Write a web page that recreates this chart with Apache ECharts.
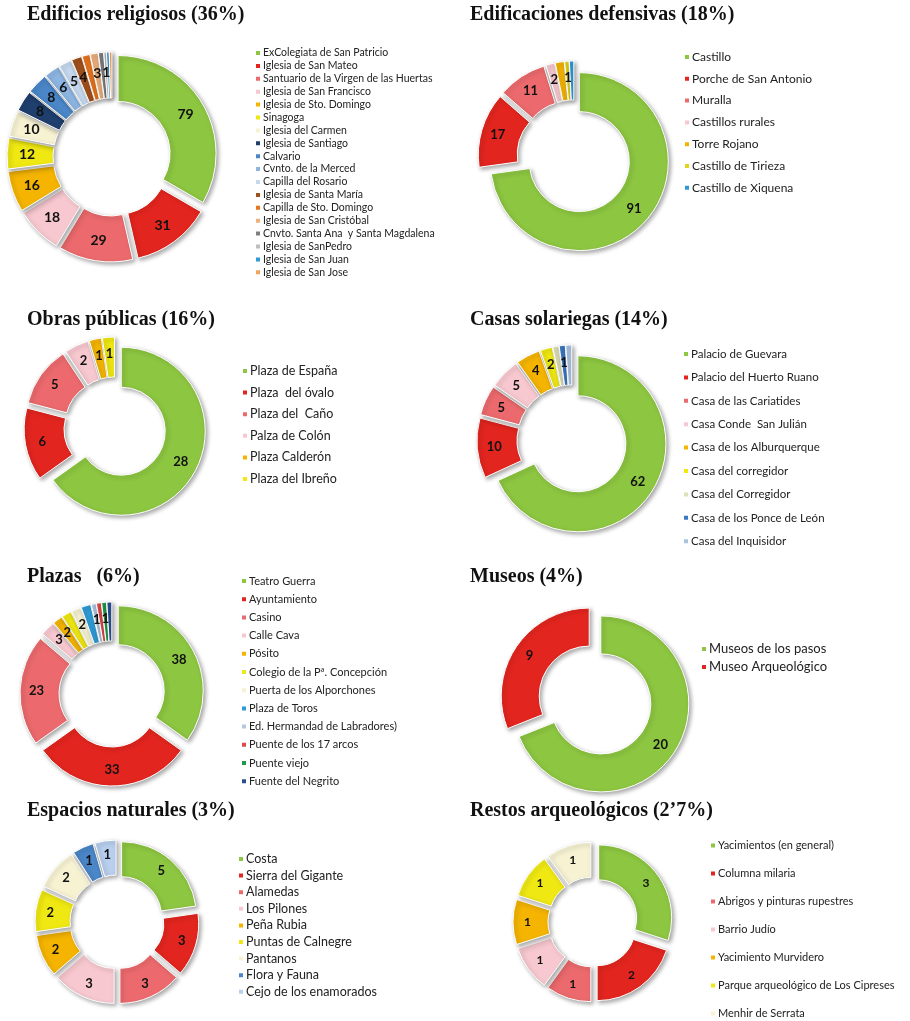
<!DOCTYPE html>
<html>
<head>
<meta charset="utf-8">
<script src="https://cdn.jsdelivr.net/npm/echarts@6/dist/echarts.min.js"></script>
<style>
  html, body { margin: 0; padding: 0; background: #fff; }
  #main { width: 910px; height: 1021px; }
</style>
</head>
<body>
<div id="main"></div>
<script>
// data
const religiososNames = ['ExColegiata de San Patricio', 'Iglesia de San Mateo', 'Santuario de la Virgen de las Huertas',
  'Iglesia de San Francisco', 'Iglesia de Sto. Domingo', 'Sinagoga', 'Iglesia del Carmen', 'Iglesia de Santiago',
  'Calvario', 'Cvnto. de la Merced', 'Capilla del Rosario', 'Iglesia de Santa María', 'Capilla de Sto. Domingo',
  'Iglesia de San Cristóbal', 'Cnvto. Santa Ana  y Santa Magdalena', 'Iglesia de SanPedro', 'Iglesia de San Juan',
  'Iglesia de San Jose']
const religiososValues = [79, 31, 29, 18, 16, 12, 10, 8, 8, 6, 5, 4, 3, 3, 2, 1, 1, 1]

const defensivasNames = ['Castillo', 'Porche de San Antonio', 'Muralla', 'Castillos rurales', 'Torre Rojano',
  'Castillo de Tirieza', 'Castillo de Xiquena']
const defensivasValues = [91, 17, 11, 2, 2, 1, 1]

const obrasNames = ['Plaza de España', 'Plaza  del óvalo', 'Plaza del  Caño', 'Palza de Colón', 'Plaza Calderón',
  'Plaza del Ibreño']
const obrasValues = [28, 6, 5, 2, 1, 1]

const casasNames = ['Palacio de Guevara', 'Palacio del Huerto Ruano', 'Casa de las Cariatides', 'Casa Conde  San Julián',
  'Casa de los Alburquerque', 'Casa del corregidor', 'Casa del Corregidor', 'Casa de los Ponce de León',
  'Casa del Inquisidor']
const casasValues = [62, 10, 5, 5, 4, 2, 1, 1, 1]

const plazasNames = ['Teatro Guerra', 'Ayuntamiento', 'Casino', 'Calle Cava', 'Pósito', 'Colegio de la Pª. Concepción',
  'Puerta de los Alporchones', 'Plaza de Toros', 'Ed. Hermandad de Labradores)', 'Puente de los 17 arcos',
  'Puente viejo', 'Fuente del Negrito']
const plazasValues = [38, 33, 23, 3, 2, 2, 2, 2, 1, 1, 1, 1]

const museosNames = ['Museos de los pasos', 'Museo Arqueológico']
const museosValues = [20, 9]

const espaciosNames = ['Costa', 'Sierra del Gigante', 'Alamedas', 'Los Pilones', 'Peña Rubia', 'Puntas de Calnegre',
  'Pantanos', 'Flora y Fauna', 'Cejo de los enamorados']
const espaciosValues = [5, 3, 3, 3, 2, 2, 2, 1, 1]

const restosNames = ['Yacimientos (en general)', 'Columna milaria', 'Abrigos y pinturas rupestres', 'Barrio Judío',
  'Yacimiento Murvidero', 'Parque arqueológico de Los Cipreses', 'Menhir de Serrata']
const restosValues = [3, 2, 1, 1, 1, 1, 1]

const titles = ['Edificios religiosos (36%)', 'Edificaciones defensivas (18%)', 'Obras públicas (16%)',
  'Casas solariegas (14%)', 'Plazas   (6%)', 'Museos (4%)', 'Espacios naturales (3%)',
  'Restos arqueológicos (2’7%)']

// colours
const base = ['#8dc641', '#e3251f', '#ec6a6d', '#f7c8cf', '#f4b400', '#efe812', '#f6f2d2']
const religiososColors = base.concat(['#1f3f6e', '#4a86c8', '#8db5e2', '#c5d8ee', '#a0501c', '#e8741e',
  '#edb07b', '#7f7f7f', '#bfbfbf', '#2f9bd6', '#f2a35e'])
const defensivasColors = ['#8dc641', '#e3251f', '#ec6a6d', '#f7c8cf', '#f4b400', '#e3d51c', '#2d9ad5']
const plazasColors = base.concat(['#2f9bd6', '#b4c8e2', '#e04848', '#1f9a4a', '#2a4f8f'])
const casasColors = ['#8dc641', '#e3251f', '#ec6a6d', '#f7c8cf', '#f4b400', '#efe812', '#dfe0b8', '#3b78c3', '#aac3e0']
const espaciosColors = base.concat(['#4a86c8', '#b8cfee'])

const charts = [
  { names: religiososNames, values: religiososValues, colors: religiososColors,
    title: [27, 5], center: [112, 157], radius: [52, 98], label: 14,
    legend: { left: 254, top: 47, font: 10.5, lh: 12, gap: 0.9 } },
  { names: defensivasNames, values: defensivasValues, colors: defensivasColors,
    title: [470, 5], center: [574, 157], radius: [50, 89], label: 13,
    legend: { left: 683, top: 50, font: 12, lh: 14, gap: 7.8 } },
  { names: obrasNames, values: obrasValues, colors: base,
    title: [27, 310], center: [115, 428], radius: [44, 84], label: 13,
    legend: { left: 241, top: 364, font: 12.5, lh: 14, gap: 7.6 } },
  { names: casasNames, values: casasValues, colors: casasColors,
    title: [470, 310], center: [572, 440], radius: [48, 88], label: 13,
    legend: { left: 682, top: 347, font: 11.5, lh: 14, gap: 9.4 } },
  { names: plazasNames, values: plazasValues, colors: plazasColors,
    title: [27, 567], center: [112, 694], radius: [46, 85], label: 13,
    legend: { left: 240, top: 574.5, font: 11, lh: 13, gap: 5.2 } },
  { names: museosNames, values: museosValues, colors: base,
    title: [470, 567], center: [595, 700], radius: [50, 88], label: 13,
    legend: { left: 700, top: 641.5, font: 13, lh: 15, gap: 3 } },
  { names: espaciosNames, values: espaciosValues, colors: espaciosColors,
    title: [27, 801], center: [117, 922], radius: [40, 75], label: 13,
    legend: { left: 237, top: 852, font: 12.5, lh: 14, gap: 2.6 } },
  { names: restosNames, values: restosValues, colors: base,
    title: [470, 801], center: [593, 922], radius: [38, 73], label: 12,
    legend: { left: 709, top: 840, font: 11, lh: 11, gap: 17 } }
]

const sliceStyle = {
  borderColor: '#fff',
  borderWidth: 1,
  shadowBlur: 4,
  shadowOffsetX: 2,
  shadowOffsetY: 2,
  shadowColor: 'rgba(0,0,0,0.35)'
}

const chart = echarts.init(document.getElementById('main'))

chart.setOption({
  animation: false,
  backgroundColor: '#fff',
  title: charts.map((c, i) => ({
    text: titles[i],
    left: c.title[0],
    top: c.title[1],
    padding: 0,
    textStyle: { fontFamily: 'Liberation Serif', fontWeight: 'bold', fontSize: 20, color: '#111' }
  })),
  legend: charts.map(c => ({
    orient: 'vertical',
    left: c.legend.left,
    top: c.legend.top,
    padding: 0,
    data: c.names,
    icon: 'rect',
    itemWidth: 6,
    itemHeight: 6,
    itemGap: c.legend.gap,
    selectedMode: false,
    textStyle: {
      fontFamily: 'Lato',
      fontSize: c.legend.font,
      lineHeight: c.legend.lh,
      color: '#222',
      padding: [0, 0, 0, -3]
    }
  })),
  series: charts.map(c => ({
    type: 'pie',
    center: c.center,
    radius: c.radius,
    startAngle: 90,
    clockwise: true,
    selectedMode: 'multiple',
    selectedOffset: 7,
    emphasis: { disabled: true },
    select: { itemStyle: sliceStyle },
    itemStyle: sliceStyle,
    label: {
      show: true,
      position: 'inside',
      formatter: '{c}',
      fontFamily: 'Lato',
      fontWeight: 'bold',
      fontSize: c.label,
      color: '#111'
    },
    labelLine: { show: false },
    data: c.names.map((n, i) => ({
      name: n,
      value: c.values[i],
      selected: true,
      itemStyle: { color: c.colors[i] }
    }))
  }))
})
</script>
</body>
</html>
